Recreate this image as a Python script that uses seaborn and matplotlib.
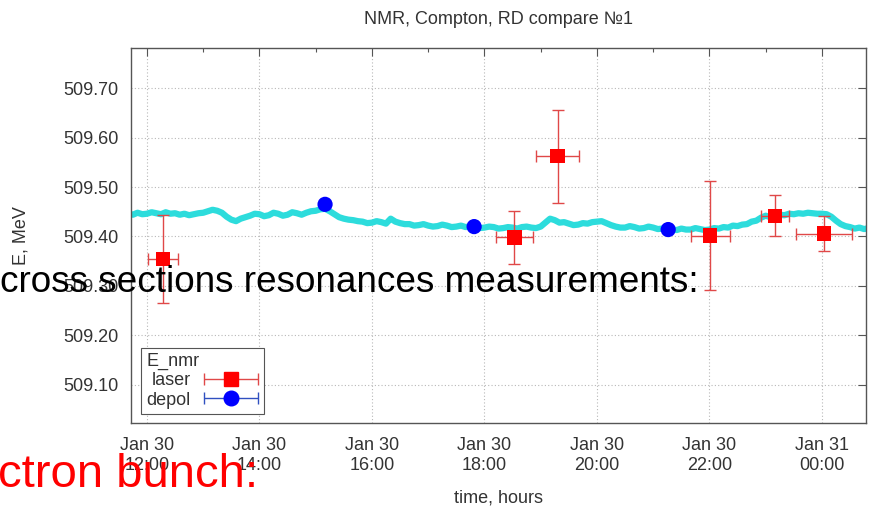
import numpy as np
import pandas as pd
import matplotlib
matplotlib.use("Agg")
import matplotlib.pyplot as plt
import matplotlib.dates as mdates
from matplotlib.ticker import FixedLocator, FormatStrFormatter
from matplotlib.container import ErrorbarContainer
from matplotlib.legend_handler import HandlerErrorbar
import seaborn as sns

# ---------------- data ----------------
# NMR energy read every 5 minutes starting 11:40 on Jan 30
nmr_energy = [
    509.447, 509.444, 509.448, 509.445, 509.446, 509.449, 509.447, 509.445,
    509.449, 509.446, 509.447, 509.444, 509.446, 509.443, 509.445, 509.447,
    509.448, 509.451, 509.454, 509.452, 509.448, 509.440, 509.434, 509.431,
    509.436, 509.439, 509.442, 509.446, 509.445, 509.441, 509.443, 509.448,
    509.446, 509.442, 509.444, 509.449, 509.447, 509.444, 509.448, 509.451,
    509.452, 509.455, 509.456, 509.451, 509.445, 509.439, 509.436, 509.434,
    509.433, 509.431, 509.430, 509.427, 509.428, 509.431, 509.429, 509.426,
    509.436, 509.430, 509.427, 509.425, 509.425, 509.422, 509.423, 509.425,
    509.422, 509.420, 509.421, 509.424, 509.422, 509.419, 509.420, 509.422,
    509.419, 509.421, 509.420, 509.417, 509.418, 509.420, 509.419, 509.416,
    509.417, 509.419, 509.418, 509.416, 509.419, 509.420, 509.418, 509.417,
    509.420, 509.428, 509.436, 509.433, 509.428, 509.429, 509.426, 509.423,
    509.424, 509.427, 509.426, 509.429, 509.430, 509.431, 509.427, 509.423,
    509.420, 509.418, 509.418, 509.421, 509.419, 509.416, 509.417, 509.420,
    509.418, 509.415, 509.416, 509.418, 509.415, 509.413, 509.416, 509.414,
    509.414, 509.417, 509.415, 509.413, 509.414, 509.417, 509.416, 509.419,
    509.418, 509.422, 509.421, 509.424, 509.425, 509.430, 509.432, 509.438,
    509.442, 509.439, 509.441, 509.444, 509.443, 509.446, 509.445, 509.447,
    509.446, 509.448, 509.447, 509.446, 509.446, 509.445, 509.440, 509.432,
    509.425, 509.421, 509.419, 509.416, 509.418, 509.415, 509.417, 509.418,
]
nmr_time = pd.date_range("2012-01-30 11:40", periods=len(nmr_energy), freq="5min")

laser_time = pd.to_datetime([
    "2012-01-30 12:17", "2012-01-30 18:32", "2012-01-30 19:18",
    "2012-01-30 22:01", "2012-01-30 23:10", "2012-01-31 00:02",
])
laser_energy = [509.354, 509.398, 509.562, 509.402, 509.442, 509.406]
laser_err = [0.089, 0.053, 0.094, 0.110, 0.041, 0.036]
laser_dt_min = [16, 20, 23, 21, 15, 30]

depol_time = pd.to_datetime([
    "2012-01-30 15:10", "2012-01-30 17:49", "2012-01-30 21:16",
])
depol_energy = [509.465, 509.420, 509.414]

y_ticks = [509.10, 509.20, 509.30, 509.40, 509.50, 509.60, 509.70]

title = "NMR, Compton, RD compare №1"
x_label = "time, hours"
y_label = "E, MeV"
legend_title = "E_nmr"
series_names = ["laser", "depol"]
overlay_black = "cross sections resonances measurements:"
overlay_red = "ctron bunch:"

# ---------------- style ----------------
sns.set_style("white")
plt.rcParams["font.family"] = ["Liberation Sans", "DejaVu Sans"]
txt = "#333333"
edge = "#555555"
fs = 13

fig = plt.figure(figsize=(8.69, 5.09), dpi=100)
ax = fig.add_axes([131 / 869, 1 - 423 / 509, 735 / 869, 375 / 509])

nmr_df = pd.DataFrame({"time": nmr_time, "E": nmr_energy})
sns.lineplot(data=nmr_df, x="time", y="E", color="#2ddcdc", lw=4.5,
             ax=ax, zorder=2, legend=False)

ax.errorbar(mdates.date2num(laser_time), laser_energy, yerr=laser_err,
            xerr=np.array(laser_dt_min) / 1440.0, fmt="none",
            ecolor="#e04848", elinewidth=1.0, capsize=4, capthick=1.0, zorder=3)

laser_df = pd.DataFrame({"time": laser_time, "E": laser_energy})
depol_df = pd.DataFrame({"time": depol_time, "E": depol_energy})
sns.scatterplot(data=laser_df, x="time", y="E", marker="s", s=105,
                color="#ff0000", edgecolor="none", ax=ax, zorder=4)
sns.scatterplot(data=depol_df, x="time", y="E", marker="o", s=120,
                color="#0000ff", edgecolor="none", ax=ax, zorder=4)

ax.set_xlim(pd.Timestamp("2012-01-30 11:43"), pd.Timestamp("2012-01-31 00:47"))
ax.set_ylim(509.023, 509.781)

ax.xaxis.set_major_locator(mdates.HourLocator(byhour=range(0, 24, 2)))
ax.xaxis.set_minor_locator(mdates.HourLocator(byhour=range(1, 24, 2)))
ax.xaxis.set_major_formatter(mdates.DateFormatter("%b %d\n%H:%M"))
ax.yaxis.set_major_locator(FixedLocator(y_ticks))
ax.yaxis.set_major_formatter(FormatStrFormatter("%.2f"))

ax.tick_params(axis="both", which="both", direction="in", top=True, right=True,
               color=edge, labelcolor=txt, labelsize=fs)
ax.tick_params(axis="both", which="major", length=6, width=0.8)
ax.tick_params(axis="both", which="minor", length=3, width=0.8)
ax.tick_params(axis="y", pad=9)
ax.tick_params(axis="x", pad=10)
fig.canvas.draw()
for lab in ax.get_xticklabels():
    lab.set_linespacing(1.25)

ax.grid(True, which="major", color="#b8b8b8", lw=0.8, linestyle=(0, (1, 2)))
for sp in ax.spines.values():
    sp.set_color(edge)
    sp.set_linewidth(1.0)

ax.set_title(title, fontsize=fs, color=txt, pad=17)
ax.set_xlabel(x_label, fontsize=fs, color=txt)
ax.set_ylabel(y_label, fontsize=fs, color=txt)
ax.xaxis.set_label_coords(0.5, -0.178)
ax.yaxis.set_label_coords(-0.138, 0.5)

# legend proxies (x-error only, as in the reference key)
h_laser = ax.errorbar([np.nan], [np.nan], xerr=[0.01], fmt="s", color="#ff0000",
                      markersize=10, ecolor="#e04848", elinewidth=1.0,
                      capsize=4, label=series_names[0])
h_depol = ax.errorbar([np.nan], [np.nan], xerr=[0.01], fmt="o", color="#0000ff",
                      markersize=10.5, ecolor="#3050c0", elinewidth=1.0,
                      capsize=4, label=series_names[1])
leg = ax.legend(handles=[h_laser, h_depol], title=legend_title,
                loc="lower left", bbox_to_anchor=(0.0136, 0.024),
                borderaxespad=0, markerfirst=False, fontsize=fs,
                title_fontsize=fs, alignment="left", fancybox=False,
                frameon=True, edgecolor=edge, framealpha=1,
                handlelength=3.0, handletextpad=0.75, labelspacing=0.12,
                borderpad=0.3,
                handler_map={ErrorbarContainer: HandlerErrorbar(xerr_size=1.5, numpoints=1)})
leg.get_frame().set_linewidth(0.8)
for t in leg.get_texts():
    t.set_color(txt)
leg.get_title().set_color(txt)

# slide text overlaid on the chart
fig.text(0.0, 1 - 292 / 509, overlay_black, fontsize=26.6, color="black",
         ha="left", va="baseline", family="Liberation Sans")
fig.text(258 / 869, 1 - 487 / 509, overlay_red, fontsize=34, color="#ff0000",
         ha="right", va="baseline", family="Liberation Sans")

fig.savefig("out.png", dpi=100)
